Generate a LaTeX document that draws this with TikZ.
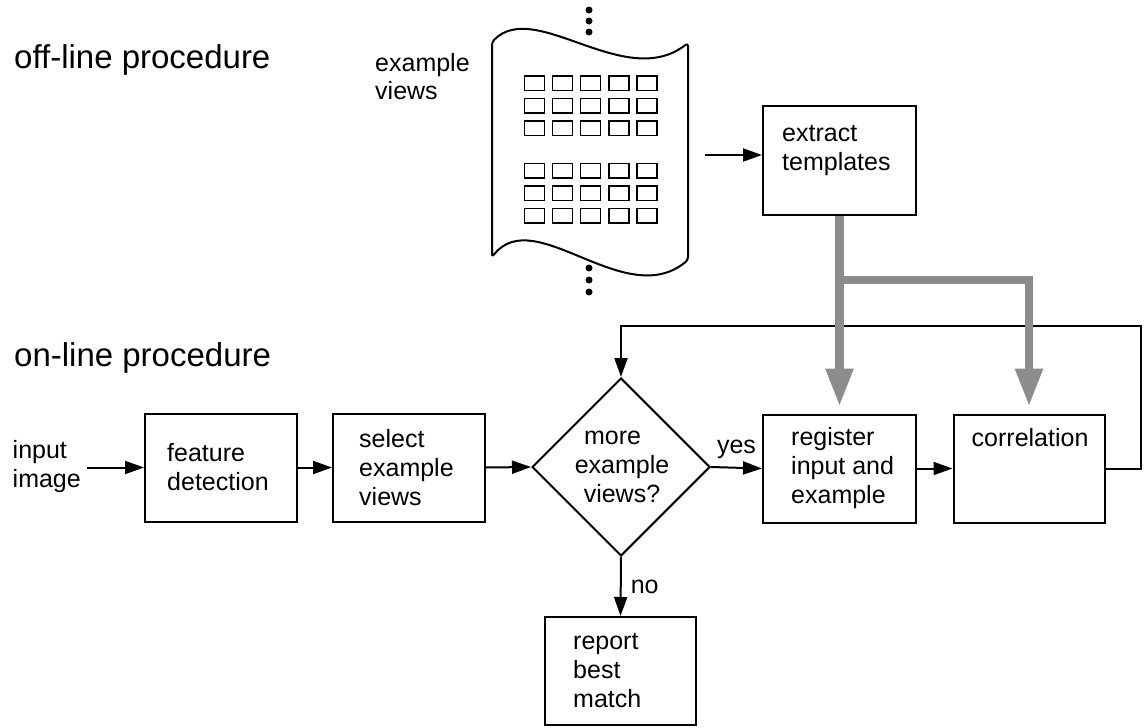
\documentclass[tikz,border=0pt]{standalone}
\usepackage{fontspec}
\setmainfont{Liberation Sans}
\usetikzlibrary{arrows.meta,shapes.geometric,calc}
\definecolor{feedgray}{gray}{0.55}
\begin{document}
\begin{tikzpicture}[x=1pt,y=-1pt,
  box/.style={draw, line width=2pt, minimum width=152pt, minimum height=108pt, inner sep=0pt},
  txt/.style={font=\fontsize{25}{29}\selectfont, align=left, inner sep=0pt},
  heading/.style={font=\fontsize{33}{38}\selectfont, inner sep=0pt, anchor=west},
  arr/.style={-{Triangle[length=19pt,width=13pt]}, line width=2pt},
  feed/.style={draw=feedgray, line width=8.5pt, line join=miter,
               -{Triangle[length=38pt,width=26pt]}},
  cell/.style={draw, line width=1.4pt},
  dot/.style={circle, fill, inner sep=0pt, minimum size=7pt},
]
\useasboundingbox (0,0) rectangle (1144,728);

% headings
\node[heading] (offline) at (14,60) {off-line procedure};
\node[heading] (online) at (14,358) {on-line procedure};

% stack of example views (a sheet with a wavy top and bottom)
\node[txt, font=\fontsize{25}{28}\selectfont, anchor=west] (evlabel) at (375,77) {example\\views};
\draw[line width=2pt, line join=round, rounded corners=3pt]
  (492,257) -- (492,42)
  .. controls (535,-2) and (625,92) .. (688,43)
  -- (688,260)
  .. controls (625,312) and (535,203) .. (492,257) -- cycle;
\foreach \r in {76,98.5,121,163.5,186,208.5}
  \foreach \c in {0,...,4}
    \draw[cell] ({524.5+28.1*\c},\r) rectangle ++(20,14.5);
\foreach \y in {10,21,32,268,280,292}
  \node[dot] at (589,\y) {};

% off-line step
\node[box, minimum width=153pt, minimum height=109pt] (ext) at (839.5,160.5) {};
\node[txt, anchor=west] (extT) at ([xshift=20pt,yshift=10pt]ext.west) {extract\\templates};
\coordinate (docout) at (705,155);
\draw[arr] (docout) -- (docout -| ext.west);

% on-line steps
\node[txt, anchor=west] (inputT) at (12.5,467) {input\\image};
\coordinate (inp) at (87,467.5);
\node[box] (feat) at (221,467.5) {};
\node[txt, anchor=west] (featT) at ([xshift=23pt]feat.west) {feature\\detection};
\node[box] (sel) at (409,467.5) {};
\node[txt, anchor=west] (selT) at ([xshift=27pt]sel.west) {select\\example\\views};
\node[draw, diamond, line width=2pt, minimum width=178pt, minimum height=178pt, inner sep=0pt] (dia) at (621,467) {};
\node[txt, align=center] (diaT) at (622,467) {more\hspace*{19pt}\\example\\views?};
\node[box, minimum width=153pt] (reg) at (839.5,468.5) {};
\node[txt, anchor=west] (regT) at ([xshift=29pt]reg.west) {register\\input and\\example};
\node[box, minimum width=151pt] (corr) at (1029,468.5) {};
\node[txt, anchor=base west] (corrT) at ([xshift=19pt,yshift=22pt]corr.west) {correlation};
\node[box, minimum width=151pt] (rep) at (620.5,671) {};
\node[txt, anchor=west] (repT) at ([xshift=29pt]rep.west) {report\\best\\match};

% control flow
\draw[arr] (inp) -- (feat.west);
\draw[arr] (feat.east) -- (sel.west);
\draw[arr] (sel.east) -- (dia.west);
\draw[arr] (dia.east) -- node[txt, above=8pt] (yes) {yes} (reg.west);
\draw[arr] (reg.east) -- (corr.west);
\draw[arr] (dia.south) -- node[txt, right=9pt] (no) {no} (rep.north);
\coordinate (looptop) at (1141,326);
\draw[arr, line join=miter] (corr.east) -| (looptop) -| (dia.north);

% templates fed to the on-line steps
\coordinate (split) at ($(ext.south)+(0,64)$);
\coordinate (splitin) at ($(split)+(-4.25,0)$);
\draw[feed, -] (ext.south) -- (split);
\draw[feed] (split) -- ([yshift=7pt]reg.north);
\draw[feed] (splitin) -| ([yshift=7pt]corr.north);
\end{tikzpicture}
\end{document}
